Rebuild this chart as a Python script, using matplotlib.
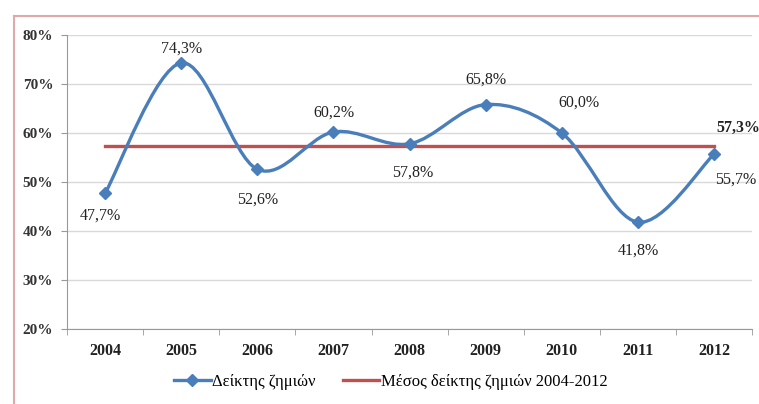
import matplotlib.pyplot as plt
from matplotlib.path import Path
from matplotlib.patches import PathPatch
from matplotlib.lines import Line2D
from matplotlib.ticker import FixedLocator

plt.rcParams['font.family'] = ['Liberation Serif', 'DejaVu Serif']

years = ['2004', '2005', '2006', '2007', '2008', '2009', '2010', '2011', '2012']
loss_ratio = [47.7, 74.3, 52.6, 60.2, 57.8, 65.8, 60.0, 41.8, 55.7]
mean_ratio = 57.3
y_ticks = [20, 30, 40, 50, 60, 70, 80]

# label offsets in pixels from each point
label_offsets = [(-5, -22), (0, 14), (0, -30), (0, 19), (3, -29),
                 (0, 25), (17, 30), (0, -28), (22, -26)]

blue = '#4a7ebb'
red = '#c0504d'

fig = plt.figure(figsize=(7.59, 4.04), dpi=100)
ax = fig.add_axes([0.0883, 0.1856, 0.9027, 0.7278])

x = list(range(len(years)))

# smoothed line (Catmull-Rom style bezier like Excel)
verts = [(x[0], loss_ratio[0])]
codes = [Path.MOVETO]
n = len(x)
for i in range(n - 1):
    p0 = (x[max(i - 1, 0)], loss_ratio[max(i - 1, 0)])
    p1 = (x[i], loss_ratio[i])
    p2 = (x[i + 1], loss_ratio[i + 1])
    p3 = (x[min(i + 2, n - 1)], loss_ratio[min(i + 2, n - 1)])
    c1 = (p1[0] + (p2[0] - p0[0]) / 6, p1[1] + (p2[1] - p0[1]) / 6)
    c2 = (p2[0] - (p3[0] - p1[0]) / 6, p2[1] - (p3[1] - p1[1]) / 6)
    verts += [c1, c2, p2]
    codes += [Path.CURVE4] * 3
ax.add_patch(PathPatch(Path(verts, codes), fill=False, ec=blue, lw=2.4, zorder=3))
ax.plot(x, loss_ratio, ls='none', marker='D', ms=6, color=blue, zorder=4)

ax.plot([x[0], x[-1]], [mean_ratio, mean_ratio], color=red, lw=2.4, zorder=2)

for xi, v, off in zip(x, loss_ratio, label_offsets):
    ax.annotate(f'{v:.1f}%'.replace('.', ','), (xi, v), xytext=off,
                textcoords='offset pixels', ha='center', va='center',
                fontsize=11.5, color='#222222')
ax.annotate(f'{mean_ratio:.1f}%'.replace('.', ','), (x[-1], mean_ratio),
            xytext=(24, 18), textcoords='offset pixels', ha='center',
            va='center', fontsize=11.5, fontweight='bold', color='#222222',
            annotation_clip=False)

ax.set_xlim(-0.5, len(years) - 0.5)
ax.set_ylim(20, 80)
ax.set_xticks(x)
ax.set_xticklabels(years, fontsize=11.5, fontweight='bold', color='#222222')
ax.xaxis.set_minor_locator(FixedLocator([i - 0.5 for i in range(len(years) + 1)]))
ax.tick_params(axis='x', which='major', length=0, pad=10)
ax.tick_params(axis='x', which='minor', length=4, color='#999999', direction='out')
ax.set_yticks(y_ticks)
ax.set_yticklabels([f'{t}%' for t in y_ticks], fontsize=11, fontweight='bold',
                   color='#333333')
ax.tick_params(axis='y', length=4, color='#999999', pad=6)
ax.grid(axis='y', color='#d9d9d9', lw=1)
ax.set_axisbelow(True)
for side in ['top', 'right']:
    ax.spines[side].set_visible(False)
for side in ['left', 'bottom']:
    ax.spines[side].set_color('#999999')

handles = [Line2D([], [], color=blue, lw=2.4, marker='D', ms=6),
           Line2D([], [], color=red, lw=2.4)]
fig.legend(handles, ['Δείκτης ζημιών', 'Μέσος δείκτης ζημιών 2004-2012'],
           loc='center', bbox_to_anchor=(0.515, 0.055), ncol=2, frameon=False,
           fontsize=12, handlelength=2.2, handletextpad=0.1, columnspacing=1.6)

# outer chart border
fig.add_artist(Line2D([14 / 759, 14 / 759], [0, 1 - 16 / 404], color='#e0a8a8', lw=1.5))
fig.add_artist(Line2D([14 / 759, 1], [1 - 16 / 404, 1 - 16 / 404], color='#e0a8a8', lw=1.5))

fig.savefig('out.png', dpi=100)
